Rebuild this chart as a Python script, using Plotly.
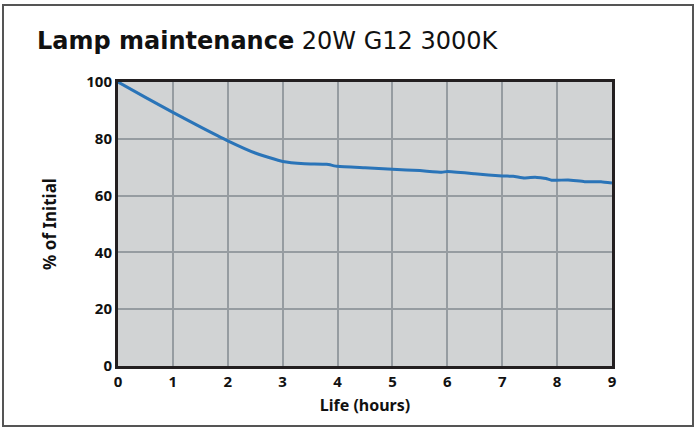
import plotly.graph_objects as go

life_hours = [0, 0.5, 1, 1.5, 2, 2.5, 3, 3.4, 3.8, 4.0, 4.5, 5.0, 5.5, 5.9, 6.0, 6.5, 7.0, 7.2, 7.4, 7.6, 7.7, 7.8, 7.9, 8.2, 8.5, 8.8, 9.0]
pct_initial = [100, 94.6, 89.3, 84.2, 79.3, 75.0, 72.0, 71.2, 71.0, 70.3, 69.8, 69.3, 68.8, 68.2, 68.5, 67.7, 66.9, 66.8, 66.2, 66.5, 66.3, 66.0, 65.4, 65.5, 64.9, 64.9, 64.4]
x_ticks = [0, 1, 2, 3, 4, 5, 6, 7, 8, 9]
y_ticks = [0, 20, 40, 60, 80, 100]

FONT = "Noto Sans"
TFONT = "DejaVu Sans"

fig = go.Figure()
fig.add_trace(go.Scatter(x=life_hours, y=pct_initial, mode="lines",
                         line=dict(color="#2a74b8", width=3, shape="spline", smoothing=0.4),
                         hoverinfo="skip"))

fig.update_layout(
    width=695, height=428,
    margin=dict(l=118, r=83, t=82, b=62),
    paper_bgcolor="white", plot_bgcolor="#d1d3d4",
    showlegend=False,
    font=dict(family=FONT, color="#111"),
    xaxis=dict(range=[0, 9], tickvals=x_ticks, ticktext=[f"<b>{v}</b>" for v in x_ticks],
               showgrid=True, gridcolor="#969ca1", gridwidth=2, zeroline=False,
               showline=True, mirror=True, linecolor="#231f20", linewidth=3,
               tickfont=dict(size=15, family=FONT, color="#111"), ticks="", ticklen=0,
               title=dict(text="<b>Life (hours)</b>", font=dict(size=16, family=FONT, color="#111"), standoff=10)),
    yaxis=dict(range=[0, 100], tickvals=y_ticks, ticktext=[f"<b>{v}</b>" for v in y_ticks],
               showgrid=True, gridcolor="#969ca1", gridwidth=2, zeroline=False,
               showline=True, mirror=True, linecolor="#231f20", linewidth=3,
               tickfont=dict(size=15, family=FONT, color="#111"), ticks="", ticklen=0,
               title=dict(text="<b>% of Initial</b>", font=dict(size=17, family=FONT, color="#111"), standoff=26)),
    annotations=[dict(xref="paper", yref="paper", x=(35 - 118) / 494, y=(366 - 41) / 284,
                      xanchor="left", yanchor="middle", showarrow=False,
                      text="<b>Lamp maintenance</b> 20W G12 3000K",
                      font=dict(size=24, family=TFONT, color="#111"))],
    shapes=[dict(type="rect", xref="paper", yref="paper",
                 x0=(3 - 118) / 494, x1=(693 - 118) / 494,
                 y0=(366 - 426) / 284, y1=(366 - 5) / 284,
                 line=dict(color="#555555", width=2), layer="below")],
)

fig.write_html("out.html", config={"displayModeBar": False},
               post_script="document.body.style.margin='0';document.body.style.overflow='hidden';")
